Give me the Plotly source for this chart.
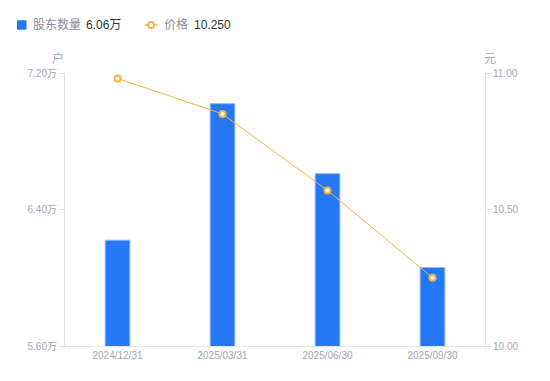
import plotly.graph_objects as go

categories = ["2024/12/31", "2025/03/31", "2025/06/30", "2025/09/30"]
holders = [6.22, 7.02, 6.61, 6.06]  # 万户
price = [10.98, 10.85, 10.57, 10.25]  # 元
left_ticks = [5.60, 6.40, 7.20]
left_ticktext = ["5.60万", "6.40万", "7.20万"]
right_ticks = [10.00, 10.50, 11.00]
legend_names = ["股东数量", "价格"]
legend_values = ["6.06万", "10.250"]

FONT = "Liberation Sans, Arial, Noto Sans CJK SC, sans-serif"
BLUE = "#2577F6"
ORANGE = "#F5B342"
GREY = "#A3A6B8"
NAMEGREY = "#8A8D9C"
AXIS = "#E3E3E8"

W, H = 542, 373
ML, MR, MT, MB = 57, 65, 65, 35
PW, PH = W - ML - MR, H - MT - MB


def px(x):
    return (x - ML) / PW


def py(y):
    return 1 - (y - MT) / PH


fig = go.Figure()
fig.add_trace(go.Bar(
    x=categories, y=holders, width=0.235,
    marker=dict(color=BLUE, line=dict(color="#8DB6F8", width=1)),
    name=legend_names[0], yaxis="y", hoverinfo="skip",
))
fig.add_trace(go.Scatter(
    x=categories, y=price, mode="lines+markers",
    line=dict(color=ORANGE, width=1),
    marker=dict(size=6, color="white", line=dict(color=ORANGE, width=2)),
    name=legend_names[1], yaxis="y2", hoverinfo="skip",
))

LY = 17
shapes = [
    dict(type="rect", xref="paper", yref="paper", x0=px(9), x1=px(18.5),
         y0=py(LY + 4.75), y1=py(LY - 4.75), fillcolor=BLUE, line=dict(width=0),
         layer="above"),
    dict(type="line", xref="paper", yref="paper", x0=px(137), x1=px(149),
         y0=py(LY), y1=py(LY), line=dict(color=ORANGE, width=1.5)),
    dict(type="circle", xref="paper", yref="paper", x0=px(140), x1=px(146),
         y0=py(LY + 3), y1=py(LY - 3), fillcolor="white",
         line=dict(color=ORANGE, width=1.8)),
]

ann_font = dict(size=12, family=FONT)
annotations = [
    dict(text=legend_names[0], x=px(23), y=py(LY), xanchor="left", yanchor="middle",
         font=dict(color=NAMEGREY, **ann_font)),
    dict(text=legend_values[0], x=px(76), y=py(LY), xanchor="left", yanchor="middle",
         font=dict(color="#333333", **ann_font)),
    dict(text=legend_names[1], x=px(154), y=py(LY), xanchor="left", yanchor="middle",
         font=dict(color=NAMEGREY, **ann_font)),
    dict(text=legend_values[1], x=px(184), y=py(LY), xanchor="left", yanchor="middle",
         font=dict(color="#333333", **ann_font)),
    dict(text="户", x=0, y=1, xshift=-7, yshift=5, xanchor="center", yanchor="bottom",
         font=dict(size=12, color=GREY, family="Noto Sans CJK SC")),
    dict(text="元", x=1, y=1, xshift=5, yshift=5, xanchor="center", yanchor="bottom",
         font=dict(size=12, color=GREY, family="Noto Sans CJK SC")),
]
for a in annotations:
    a.update(xref="paper", yref="paper", showarrow=False)

fig.update_layout(
    width=W, height=H,
    margin=dict(l=ML, r=MR, t=MT, b=MB, autoexpand=False),
    plot_bgcolor="white", paper_bgcolor="white",
    font=dict(family=FONT, size=11, color=GREY),
    showlegend=False,
    xaxis=dict(showline=True, linecolor=AXIS, linewidth=1, ticks="", showgrid=False,
               tickfont=dict(size=10, color=GREY), zeroline=False, automargin=False),
    yaxis=dict(range=[5.60, 7.20], tickvals=left_ticks, ticktext=left_ticktext,
               showline=True, linecolor=AXIS, ticks="outside", ticklen=5,
               tickcolor=AXIS, showgrid=False, zeroline=False, automargin=False,
               tickfont=dict(size=10, color=GREY)),
    yaxis2=dict(range=[10.0, 11.0], tickvals=right_ticks, tickformat=".2f",
                overlaying="y", side="right",
                showline=True, linecolor=AXIS, ticks="outside", ticklen=5,
                tickcolor=AXIS, showgrid=False, zeroline=False, automargin=False,
                tickfont=dict(size=10, color=GREY)),
    shapes=shapes,
    annotations=annotations,
)

fig.write_html("out.html")
